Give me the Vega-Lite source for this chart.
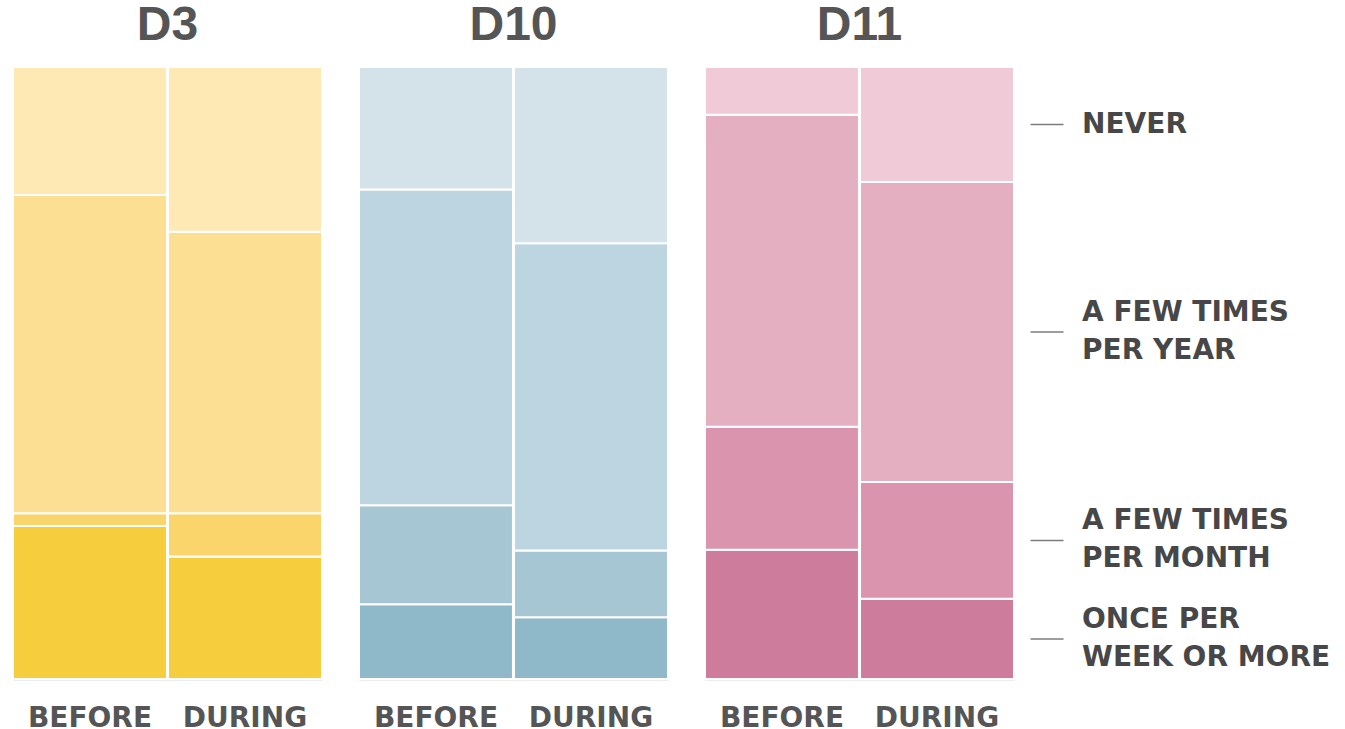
{
  "$schema": "https://vega.github.io/schema/vega-lite/v6.json",
  "padding": {"left": 12, "top": 2, "right": 0, "bottom": 0},
  "background": "white",
  "bounds": "flush",
  "data": {
    "values": [
      {"district": "D3", "period": "BEFORE", "freq": "ONCE PER\nWEEK OR MORE", "rank": 1, "pct": 25},
      {"district": "D3", "period": "BEFORE", "freq": "A FEW TIMES\nPER MONTH", "rank": 2, "pct": 2.1},
      {"district": "D3", "period": "BEFORE", "freq": "A FEW TIMES\nPER YEAR", "rank": 3, "pct": 52},
      {"district": "D3", "period": "BEFORE", "freq": "NEVER", "rank": 4, "pct": 20.9},
      {"district": "D3", "period": "DURING", "freq": "ONCE PER\nWEEK OR MORE", "rank": 1, "pct": 20},
      {"district": "D3", "period": "DURING", "freq": "A FEW TIMES\nPER MONTH", "rank": 2, "pct": 7.1},
      {"district": "D3", "period": "DURING", "freq": "A FEW TIMES\nPER YEAR", "rank": 3, "pct": 46},
      {"district": "D3", "period": "DURING", "freq": "NEVER", "rank": 4, "pct": 26.9},
      {"district": "D10", "period": "BEFORE", "freq": "ONCE PER\nWEEK OR MORE", "rank": 1, "pct": 12.2},
      {"district": "D10", "period": "BEFORE", "freq": "A FEW TIMES\nPER MONTH", "rank": 2, "pct": 16.2},
      {"district": "D10", "period": "BEFORE", "freq": "A FEW TIMES\nPER YEAR", "rank": 3, "pct": 51.6},
      {"district": "D10", "period": "BEFORE", "freq": "NEVER", "rank": 4, "pct": 20},
      {"district": "D10", "period": "DURING", "freq": "ONCE PER\nWEEK OR MORE", "rank": 1, "pct": 10.1},
      {"district": "D10", "period": "DURING", "freq": "A FEW TIMES\nPER MONTH", "rank": 2, "pct": 10.9},
      {"district": "D10", "period": "DURING", "freq": "A FEW TIMES\nPER YEAR", "rank": 3, "pct": 50.2},
      {"district": "D10", "period": "DURING", "freq": "NEVER", "rank": 4, "pct": 28.8},
      {"district": "D11", "period": "BEFORE", "freq": "ONCE PER\nWEEK OR MORE", "rank": 1, "pct": 21.1},
      {"district": "D11", "period": "BEFORE", "freq": "A FEW TIMES\nPER MONTH", "rank": 2, "pct": 20.1},
      {"district": "D11", "period": "BEFORE", "freq": "A FEW TIMES\nPER YEAR", "rank": 3, "pct": 51},
      {"district": "D11", "period": "BEFORE", "freq": "NEVER", "rank": 4, "pct": 7.8},
      {"district": "D11", "period": "DURING", "freq": "ONCE PER\nWEEK OR MORE", "rank": 1, "pct": 13.1},
      {"district": "D11", "period": "DURING", "freq": "A FEW TIMES\nPER MONTH", "rank": 2, "pct": 19.1},
      {"district": "D11", "period": "DURING", "freq": "A FEW TIMES\nPER YEAR", "rank": 3, "pct": 49},
      {"district": "D11", "period": "DURING", "freq": "NEVER", "rank": 4, "pct": 18.8}
    ]
  },
  "transform": [
    {"stack": "pct", "groupby": ["district", "period"], "sort": [{"field": "rank", "order": "ascending"}], "offset": "normalize", "as": ["y0", "y1"]},
    {"calculate": "(datum.y0 + datum.y1) / 2", "as": "ymid"},
    {"calculate": "datum.district + '|' + datum.rank", "as": "key"}
  ],
  "facet": {
    "column": {
      "field": "district",
      "type": "nominal",
      "sort": ["D3", "D10", "D11"],
      "title": null,
      "header": {
        "labelFont": "Liberation Sans",
        "labelFontWeight": "bold",
        "labelFontSize": 48,
        "labelColor": "#555555",
        "labelPadding": -21,
        "labelBaseline": "alphabetic"
      }
    }
  },
  "spacing": 37,
  "spec": {
    "width": 309,
    "height": 612,
    "layer": [
      {
        "mark": {"type": "bar", "stroke": "white", "strokeWidth": 2},
        "encoding": {
          "x": {
            "field": "period",
            "type": "nominal",
            "sort": ["BEFORE", "DURING"],
            "scale": {"paddingInner": 0.007, "paddingOuter": 0},
            "axis": {
              "title": null,
              "ticks": false,
              "labelAngle": 0,
              "labelFont": "DejaVu Sans",
              "labelFontWeight": "bold",
              "labelFontSize": 28,
              "labelColor": "#555555",
              "labelPadding": 25,
              "domainColor": "#dcdcdc",
              "domainWidth": 2,
              "grid": false
            }
          },
          "y": {"field": "y0", "type": "quantitative", "scale": {"domain": [0, 1]}, "axis": null},
          "y2": {"field": "y1"},
          "color": {
            "field": "key",
            "type": "nominal",
            "legend": null,
            "scale": {
              "domain": ["D3|1", "D3|2", "D3|3", "D3|4", "D10|1", "D10|2", "D10|3", "D10|4", "D11|1", "D11|2", "D11|3", "D11|4"],
              "range": ["#F6CD3C", "#FAD56C", "#FCDF93", "#FEE9B5", "#8FB8C8", "#A6C6D4", "#BDD5E0", "#D4E2E9", "#CD7C9B", "#DA94AE", "#E4B0C1", "#F0CAD6"]
            }
          }
        }
      },
      {
        "transform": [{"filter": "datum.district == 'D11' && datum.period == 'DURING'"}],
        "mark": {"type": "tick", "orient": "horizontal", "size": 33, "thickness": 1.5, "xOffset": 110, "color": "#444444"},
        "encoding": {
          "x": {"field": "period", "type": "nominal", "sort": ["BEFORE", "DURING"]},
          "y": {"field": "ymid", "type": "quantitative", "scale": {"domain": [0, 1]}}
        }
      },
      {
        "transform": [{"filter": "datum.district == 'D11' && datum.period == 'DURING' && datum.rank == 4"}],
        "mark": {"type": "text", "align": "left", "baseline": "middle", "dx": 145, "font": "DejaVu Sans", "fontWeight": "bold", "fontSize": 28, "color": "#474747"},
        "encoding": {
          "x": {"field": "period", "type": "nominal", "sort": ["BEFORE", "DURING"]},
          "y": {"field": "ymid", "type": "quantitative", "scale": {"domain": [0, 1]}},
          "text": {"field": "freq"}
        }
      },
      {
        "transform": [{"filter": "datum.district == 'D11' && datum.period == 'DURING' && datum.rank < 4"}],
        "mark": {"type": "text", "align": "left", "baseline": "middle", "dx": 145, "dy": -19, "lineBreak": "\n", "lineHeight": 38, "font": "DejaVu Sans", "fontWeight": "bold", "fontSize": 28, "color": "#474747"},
        "encoding": {
          "x": {"field": "period", "type": "nominal", "sort": ["BEFORE", "DURING"]},
          "y": {"field": "ymid", "type": "quantitative", "scale": {"domain": [0, 1]}},
          "text": {"field": "freq"}
        }
      }
    ]
  },
  "config": {
    "view": {"stroke": null}
  }
}
